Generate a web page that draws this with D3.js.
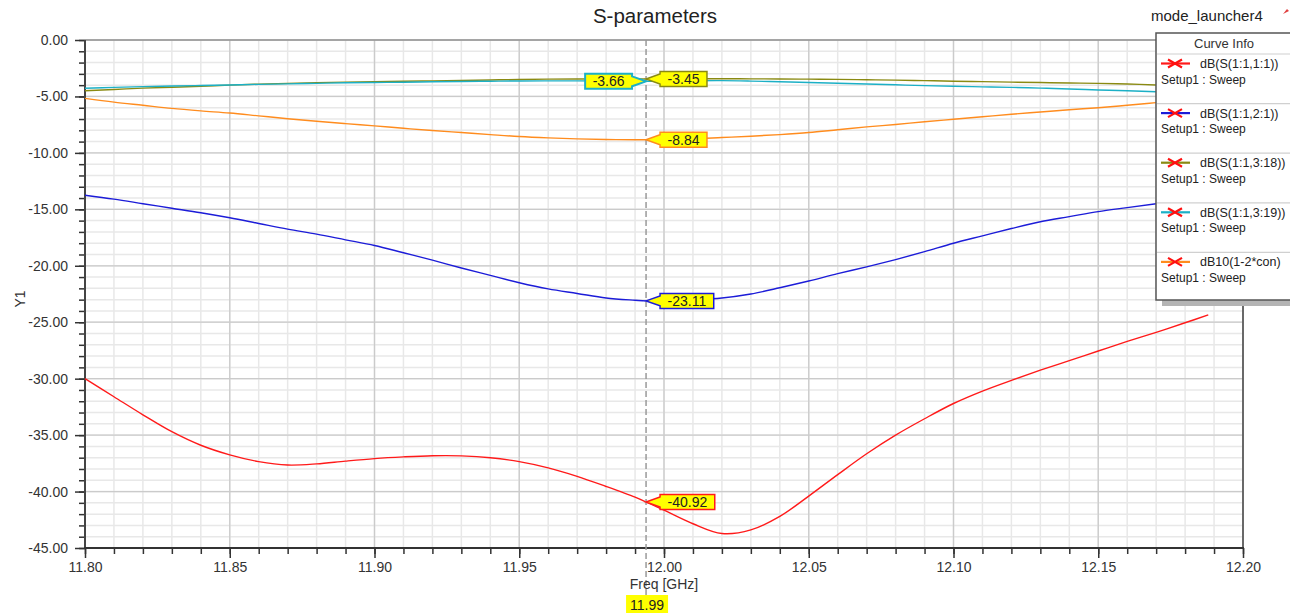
<!DOCTYPE html>
<html>
<head>
<meta charset="utf-8">
<script src="https://cdn.jsdelivr.net/npm/d3@7"></script>
<style>
  body { margin: 0; background: #fff; }
  svg { display: block; }
  text { font-family: Arial, "Liberation Sans", sans-serif; }
</style>
</head>
<body>
<svg id="chart" width="1290" height="613"></svg>
<script>
// Sweep frequencies (GHz); 11.9938 is the cursor sample
const freqGHz = [11.80, 11.81, 11.82, 11.83, 11.84, 11.85, 11.86, 11.87, 11.88, 11.89,
                 11.90, 11.91, 11.92, 11.93, 11.94, 11.95, 11.96, 11.97, 11.98, 11.99,
                 11.9938,
                 12.00, 12.01, 12.02, 12.03, 12.04, 12.05, 12.06, 12.07, 12.08, 12.09,
                 12.10, 12.11, 12.12, 12.13, 12.14, 12.15, 12.16, 12.17, 12.18, 12.188];

// dB(S(1:1,1:1))
const s11 = [-30.0, -31.6, -33.2, -34.7, -35.9, -36.75, -37.35, -37.65, -37.55, -37.3,
             -37.08, -36.93, -36.83, -36.84, -37.0, -37.35, -37.9, -38.65, -39.55, -40.5,
             -40.92,
             -41.65, -42.85, -43.72, -43.4, -42.2, -40.4, -38.5, -36.65, -35.0, -33.55,
             -32.2, -31.1, -30.15, -29.25, -28.4, -27.55, -26.7, -25.9, -25.05, -24.35];

// dB(S(1:1,2:1))
const s21 = [-13.75, -14.1, -14.5, -14.9, -15.3, -15.75, -16.25, -16.75, -17.2, -17.7,
             -18.2, -18.85, -19.5, -20.2, -20.85, -21.5, -22.05, -22.45, -22.85, -23.05,
             -23.11,
             -23.08, -23.0, -22.85, -22.5, -21.95, -21.35, -20.7, -20.1, -19.45, -18.75,
             -18.0, -17.35, -16.7, -16.1, -15.65, -15.2, -14.85, -14.5, -14.15, -13.9];

// dB(S(1:1,3:18))
const s3_18 = [-4.49, -4.38, -4.26, -4.18, -4.1, -4.0, -3.91, -3.84, -3.78, -3.73,
               -3.69, -3.66, -3.62, -3.58, -3.54, -3.5, -3.47, -3.45, -3.44, -3.44,
               -3.45,
               -3.44, -3.43, -3.43, -3.44, -3.45, -3.47, -3.49, -3.52, -3.55, -3.6,
               -3.65, -3.69, -3.73, -3.77, -3.81, -3.84, -3.9, -3.98, -4.05, -4.1];

// dB(S(1:1,3:19))
const s3_19 = [-4.28, -4.2, -4.13, -4.08, -4.03, -3.98, -3.93, -3.89, -3.84, -3.79,
               -3.76, -3.74, -3.7, -3.67, -3.65, -3.63, -3.62, -3.62, -3.63, -3.65,
               -3.66,
               -3.64, -3.61, -3.6, -3.64, -3.7, -3.76, -3.83, -3.9, -3.97, -4.04,
               -4.1, -4.15, -4.2, -4.26, -4.34, -4.43, -4.5, -4.58, -4.65, -4.7];

// dB10(1-2*con)
const con = [-5.17, -5.5, -5.78, -6.06, -6.28, -6.47, -6.72, -6.97, -7.2, -7.41,
             -7.61, -7.82, -8.02, -8.2, -8.38, -8.55, -8.67, -8.76, -8.81, -8.84,
             -8.84,
             -8.83, -8.76, -8.64, -8.52, -8.38, -8.2, -7.95, -7.7, -7.48, -7.24,
             -7.02, -6.8, -6.58, -6.38, -6.18, -6.0, -5.78, -5.55, -5.32, -5.15];

const seriesNames = ["dB(S(1:1,1:1))", "dB(S(1:1,2:1))", "dB(S(1:1,3:18))", "dB(S(1:1,3:19))", "dB10(1-2*con)"];
const seriesValues = [s11, s21, s3_18, s3_19, con];
const seriesColors = ["#ff1a1a", "#1c1cd8", "#8a8a12", "#1cb0c6", "#ff8c1e"];
const calloutSide = ["right", "right", "right", "left", "right"];

const xMajorTicks = [11.80, 11.85, 11.90, 11.95, 12.00, 12.05, 12.10, 12.15, 12.20];
const yMajorTicks = [0, -5, -10, -15, -20, -25, -30, -35, -40, -45];
const cursorIndex = 20;
const cursorLabel = "11.99";

const svg = d3.select("#chart");
const x = d3.scaleLinear().domain([11.8, 12.2]).range([85, 1243]);
const y = d3.scaleLinear().domain([0, -45]).range([40, 548]);

const xMinor = d3.range(0, 41).map(i => 11.8 + i * 0.01);
const yMinor = d3.range(0, 46).map(i => -i);

// grid
const grid = svg.append("g");
grid.selectAll(".vmin").data(xMinor).join("line")
  .attr("x1", d => x(d)).attr("x2", d => x(d)).attr("y1", 40).attr("y2", 548)
  .attr("stroke", "#e8e8e8").attr("stroke-width", 1.5);
grid.selectAll(".hmin").data(yMinor).join("line")
  .attr("x1", 85).attr("x2", 1243).attr("y1", d => y(d)).attr("y2", d => y(d))
  .attr("stroke", "#e8e8e8").attr("stroke-width", 1.5);
grid.selectAll(".vmaj").data(xMajorTicks).join("line")
  .attr("x1", d => x(d)).attr("x2", d => x(d)).attr("y1", 40).attr("y2", 548)
  .attr("stroke", "#cbcbcb").attr("stroke-width", 1.3);
grid.selectAll(".hmaj").data(yMajorTicks).join("line")
  .attr("x1", 85).attr("x2", 1243).attr("y1", d => y(d)).attr("y2", d => y(d))
  .attr("stroke", "#cbcbcb").attr("stroke-width", 1.3);

// frame
svg.append("line").attr("x1", 85).attr("x2", 1243).attr("y1", 40).attr("y2", 40)
  .attr("stroke", "#777").attr("stroke-width", 1.2);
svg.append("line").attr("x1", 1243).attr("x2", 1243).attr("y1", 40).attr("y2", 548)
  .attr("stroke", "#444").attr("stroke-width", 1.5);

// axes
function styleAxis(g) {
  g.select(".domain").remove();
  g.selectAll(".tick line").attr("stroke", "#333").attr("stroke-width", 1.5);
  g.selectAll(".tick text").attr("fill", "#333").attr("font-size", 14)
    .attr("font-family", 'Arial, "Liberation Sans", sans-serif');
}
svg.append("g").attr("transform", "translate(85,0)")
  .call(d3.axisLeft(y).tickValues(yMinor).tickSize(6).tickFormat(""))
  .call(styleAxis);
svg.append("g").attr("transform", "translate(85,0)")
  .call(d3.axisLeft(y).tickValues(yMajorTicks).tickSize(10).tickPadding(7).tickFormat(d => d.toFixed(2)))
  .call(styleAxis);
svg.append("g").attr("transform", "translate(0,548)")
  .call(d3.axisBottom(x).tickValues(xMinor).tickSize(6).tickFormat(""))
  .call(styleAxis);
svg.append("g").attr("transform", "translate(0,548)")
  .call(d3.axisBottom(x).tickValues(xMajorTicks).tickSize(10).tickPadding(4).tickFormat(d => d.toFixed(2)))
  .call(styleAxis);

svg.append("line").attr("x1", 85).attr("x2", 85).attr("y1", 40).attr("y2", 549)
  .attr("stroke", "#444").attr("stroke-width", 2);
svg.append("line").attr("x1", 84).attr("x2", 1244).attr("y1", 548).attr("y2", 548)
  .attr("stroke", "#333").attr("stroke-width", 2);

// curves
const line = d3.line().x(d => x(d[0])).y(d => y(d[1])).curve(d3.curveCatmullRom.alpha(0.5));
seriesValues.forEach((vals, i) => {
  svg.append("path")
    .datum(freqGHz.map((f, k) => [f, vals[k]]))
    .attr("d", line)
    .attr("fill", "none")
    .attr("stroke", seriesColors[i])
    .attr("stroke-width", 1.4);
});

// cursor
const cx = x(freqGHz[cursorIndex]);
svg.append("line").attr("x1", cx).attr("x2", cx).attr("y1", 40).attr("y2", 597)
  .attr("stroke", "#9a9a9a").attr("stroke-width", 1.5).attr("stroke-dasharray", "6,3");

// axis titles
svg.append("text").attr("x", 664).attr("y", 589).attr("text-anchor", "middle")
  .attr("font-size", 14).attr("fill", "#333").text("Freq [GHz]");
svg.append("text").attr("transform", "translate(25,299) rotate(-90)").attr("text-anchor", "middle")
  .attr("font-size", 14).attr("fill", "#333").text("Y1");

// cursor frequency tag
const tag = svg.append("g");
const tagText = tag.append("text").attr("x", cx + 1).attr("y", 610).attr("text-anchor", "middle")
  .attr("font-size", 14).attr("fill", "#222").text(cursorLabel);
const tw = tagText.node().getComputedTextLength();
tag.insert("rect", "text").attr("x", cx + 1 - tw / 2 - 4).attr("y", 595).attr("width", tw + 8).attr("height", 20)
  .attr("fill", "#ffff00");

// value callouts at the cursor
seriesValues.forEach((vals, i) => {
  const v = vals[cursorIndex];
  const py = y(v);
  const g = svg.append("g");
  const t = g.append("text").attr("font-size", 14).attr("fill", "#222").text(v.toFixed(2));
  const w = t.node().getComputedTextLength() + 15;
  const h = 15, gap = 14, half = 5;
  let x0, pts;
  if (calloutSide[i] === "right") {
    x0 = cx + gap;
    pts = [[cx, py], [x0, py - half], [x0, py - h / 2], [x0 + w, py - h / 2], [x0 + w, py + h / 2], [x0, py + h / 2], [x0, py + half]];
  } else {
    x0 = cx - gap - w;
    const x1 = cx - gap;
    pts = [[cx, py], [x1, py + half], [x1, py + h / 2], [x0, py + h / 2], [x0, py - h / 2], [x1, py - h / 2], [x1, py - half]];
  }
  g.insert("path", "text").attr("d", "M" + pts.join("L") + "Z")
    .attr("fill", "#ffff00").attr("stroke", seriesColors[i])
    .attr("stroke-width", i === 3 ? 2 : 1.5).attr("stroke-linejoin", "miter");
  t.attr("x", x0 + 7.5).attr("y", py + 5);
});

// title and design name
svg.append("text").attr("x", 655).attr("y", 23).attr("text-anchor", "middle")
  .attr("font-size", 20.5).attr("fill", "#222").text("S-parameters");
svg.append("text").attr("x", 1151).attr("y", 21).attr("font-size", 15).attr("fill", "#222").text("mode_launcher4");
svg.append("path").attr("d", "M1283,14 L1287,9 L1289,11 Z").attr("fill", "#e04040");

// curve info legend
const lg = svg.append("g");
lg.append("rect").attr("x", 1162).attr("y", 298).attr("width", 140).attr("height", 8).attr("fill", "#b4b4b4");
lg.append("rect").attr("x", 1156).attr("y", 33).attr("width", 150).attr("height", 267)
  .attr("fill", "#fff").attr("stroke", "#555").attr("stroke-width", 1.5);
lg.append("text").attr("x", 1224).attr("y", 48).attr("text-anchor", "middle")
  .attr("font-size", 13).attr("fill", "#333").text("Curve Info");
seriesNames.forEach((name, i) => {
  const top = 54 + i * 49.6;
  lg.append("line").attr("x1", 1157).attr("x2", 1290).attr("y1", top).attr("y2", top)
    .attr("stroke", "#d0d0d0").attr("stroke-width", 1.2);
  const iy = top + 9.5;
  lg.append("line").attr("x1", 1161).attr("x2", 1190).attr("y1", iy).attr("y2", iy)
    .attr("stroke", seriesColors[i]).attr("stroke-width", 2.2);
  // cross marker
  lg.append("path")
    .attr("d", `M${1168},${iy - 4} L${1182},${iy + 4} M${1168},${iy + 4} L${1182},${iy - 4}`)
    .attr("stroke", "#ff1010").attr("stroke-width", 2.2).attr("fill", "none");
  lg.append("text").attr("x", 1200).attr("y", iy + 4.5).attr("font-size", 12.5).attr("fill", "#222").text(name);
  lg.append("text").attr("x", 1161).attr("y", iy + 20).attr("font-size", 12).attr("fill", "#222").text("Setup1 : Sweep");
});
</script>
</body>
</html>
